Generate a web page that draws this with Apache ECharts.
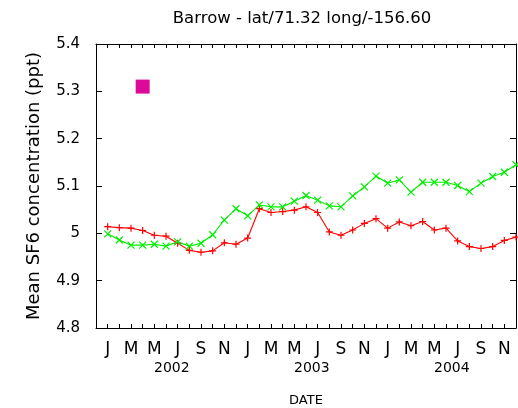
<!DOCTYPE html>
<html><head><meta charset="utf-8">
<script src="https://cdn.jsdelivr.net/npm/echarts@6/dist/echarts.min.js"></script>
<style>html,body{margin:0;padding:0;background:#fff}#c{width:518px;height:408px}</style>
</head><body><div id="c"></div>
<script>
const monthLetters = ['J','','M','','M','','J','','S','','N',''];
const years = ['2002','2003','2004'];
const yearCenters = [5.5, 17.5, 29.5];
const yTicks = [4.8, 4.9, 5.0, 5.1, 5.2, 5.3, 5.4];
const redSeries = [5.014,5.012,5.011,5.006,4.996,4.994,4.979,4.964,4.960,4.963,4.980,4.977,
  4.990,5.052,5.044,5.046,5.049,5.056,5.044,5.003,4.996,5.007,5.021,5.031,
  5.011,5.024,5.016,5.025,5.007,5.011,4.984,4.972,4.968,4.972,4.985,4.992];
const greenSeries = [4.999,4.986,4.975,4.975,4.977,4.973,4.982,4.973,4.979,4.997,5.028,5.052,
  5.037,5.060,5.056,5.056,5.068,5.080,5.070,5.058,5.056,5.079,5.098,5.121,
  5.106,5.113,5.087,5.108,5.108,5.108,5.101,5.088,5.106,5.120,5.129,5.145];
const squarePoint = [[3, 5.31]];

const FONT = 'DejaVu Sans';
const chart = echarts.init(document.getElementById('c'), null, {renderer: 'canvas'});
const plus = 'path://M5,0 L5,10 M0,5 L10,5';
const cross = 'path://M0,0 L10,10 M10,0 L0,10';
const axisLine = {show: true, onZero: false, lineStyle: {color: '#000', width: 1}};
chart.setOption({
  animation: false,
  title: {text: 'Barrow - lat/71.32 long/-156.60', left: 297, top: 5, textAlign: 'center',
    textStyle: {fontFamily: FONT, fontSize: 16.5, fontWeight: 'normal', color: '#000'}},
  grid: {left: 96, right: 2, top: 44, bottom: 80, outerBoundsMode: 'none', containLabel: false},
  xAxis: [
    {type: 'value', min: -1, max: 35, interval: 1, position: 'bottom',
     axisLine: axisLine, splitLine: {show: false},
     axisTick: {show: true, inside: true, length: 4, lineStyle: {color: '#000'}},
     axisLabel: {margin: 13, fontFamily: FONT, fontSize: 17, color: '#000',
       formatter: v => (v >= 0 ? monthLetters[((v % 12) + 12) % 12] : '')}},
    {type: 'value', min: -1, max: 35, interval: 1, position: 'top',
     axisLine: axisLine, splitLine: {show: false},
     axisTick: {show: true, inside: true, length: 4, lineStyle: {color: '#000'}},
     axisLabel: {show: false}},
    {type: 'value', min: -1, max: 35, position: 'bottom', gridIndex: 0,
     axisLine: {show: false, onZero: false}, axisTick: {show: false}, splitLine: {show: false},
     axisLabel: {margin: 33, fontFamily: FONT, fontSize: 14, color: '#000',
       customValues: yearCenters,
       formatter: v => years[yearCenters.indexOf(v)] || ''},
     name: 'DATE', nameLocation: 'middle', nameGap: 66,
     nameTextStyle: {fontFamily: FONT, fontSize: 13, color: '#000'}}
  ],
  yAxis: [
    {type: 'value', min: 4.8, max: 5.4, interval: 0.1, position: 'left',
     axisLine: axisLine, splitLine: {show: false},
     axisTick: {show: true, inside: true, length: 6, lineStyle: {color: '#000'}},
     axisLabel: {margin: 16, fontFamily: FONT, fontSize: 15, color: '#000',
       formatter: v => String(+v.toFixed(1))},
     name: 'Mean SF6 concentration (ppt)', nameLocation: 'middle', nameGap: 53,
     nameTextStyle: {fontFamily: FONT, fontSize: 18, color: '#000'}},
    {type: 'value', min: 4.8, max: 5.4, interval: 0.1, position: 'right',
     axisLine: axisLine, splitLine: {show: false},
     axisTick: {show: true, inside: true, length: 6, lineStyle: {color: '#000'}},
     axisLabel: {show: false}}
  ],
  series: [
    {type: 'line', xAxisIndex: 0, yAxisIndex: 0, clip: false,
     data: redSeries.map((v, i) => [i, v]),
     symbol: plus, symbolSize: 7,
     lineStyle: {color: '#ff0000', width: 1.1},
     itemStyle: {color: '#ff0000', borderColor: '#ff0000', borderWidth: 1.2}},
    {type: 'line', xAxisIndex: 0, yAxisIndex: 0, clip: false,
     data: greenSeries.map((v, i) => [i, v]),
     symbol: cross, symbolSize: 7,
     lineStyle: {color: '#00ee00', width: 1.1},
     itemStyle: {color: '#00ee00', borderColor: '#00ee00', borderWidth: 1.2}},
    {type: 'scatter', xAxisIndex: 0, yAxisIndex: 0,
     data: squarePoint, symbol: 'rect', symbolSize: 14,
     itemStyle: {color: '#dd0a99', opacity: 1}}
  ]
});
</script></body></html>
